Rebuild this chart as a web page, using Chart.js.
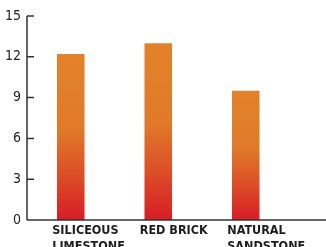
<!DOCTYPE html>
<html>
<head>
<meta charset="utf-8">
<script src="https://cdn.jsdelivr.net/npm/chart.js@4/dist/chart.umd.min.js"></script>
<style>
html,body{margin:0;padding:0;background:#fff;}
#wrap{width:326px;height:247px;position:relative;}
</style>
</head>
<body>
<div id="wrap"><canvas id="c" width="326" height="247"></canvas></div>
<script>
const categories = [["SILICEOUS","LIMESTONE"], "RED BRICK", ["NATURAL","SANDSTONE"]];
const values = [12.2, 13.0, 9.5];
const yTicks = [0, 3, 6, 9, 12, 15];

const AXIS = '#333333';

const axisPlugin = {
  id: 'axisLines',
  afterDraw(chart) {
    const ctx = chart.ctx, a = chart.chartArea, y = chart.scales.y;
    ctx.save();
    ctx.strokeStyle = AXIS;
    ctx.lineWidth = 1.5;
    ctx.beginPath();
    ctx.moveTo(a.left, a.top);
    ctx.lineTo(a.left, a.bottom);
    ctx.moveTo(a.left, a.bottom);
    ctx.lineTo(chart.width, a.bottom);
    y.ticks.forEach(t => {
      const py = y.getPixelForValue(t.value);
      ctx.moveTo(a.left, py);
      ctx.lineTo(a.left + 7, py);
    });
    ctx.stroke();
    ctx.restore();
  }
};

function barFill(context) {
  const chart = context.chart;
  const y = chart.scales && chart.scales.y;
  const v = context.raw;
  if (!y || !chart.chartArea || typeof v !== 'number') return '#E0802A';
  const top = y.getPixelForValue(v);
  const bottom = y.getPixelForValue(0);
  if (!isFinite(top) || !isFinite(bottom) || bottom - top < 1) return '#E0802A';
  const g = chart.ctx.createLinearGradient(0, top, 0, bottom);
  g.addColorStop(0, '#E3822A');
  g.addColorStop(0.45, '#E07A29');
  g.addColorStop(0.75, '#DC4A27');
  g.addColorStop(1, '#D81C26');
  return g;
}

new Chart(document.getElementById('c'), {
  type: 'bar',
  data: {
    labels: categories,
    datasets: [{
      data: values,
      backgroundColor: barFill,
      borderWidth: 0,
      categoryPercentage: 1,
      barPercentage: 0.315
    }]
  },
  options: {
    responsive: false,
    animation: false,
    events: [],
    layout: { padding: { top: 16, right: 36.5, left: 0, bottom: 0 } },
    plugins: { legend: { display: false }, tooltip: { enabled: false } },
    scales: {
      x: {
        grid: { display: false, drawTicks: false },
        border: { display: false },
        ticks: {
          color: '#1e1e1e',
          font: { family: "'DejaVu Sans Condensed', 'DejaVu Sans', sans-serif", size: 12.5, weight: 'bold', lineHeight: 1.25 },
          align: 'start',
          labelOffset: -18.5,
          padding: 3,
          maxRotation: 0,
          minRotation: 0,
          autoSkip: false
        },
        afterFit(s) { s.height = 27; s.paddingLeft = 0; s.paddingRight = 0; }
      },
      y: {
        min: 0,
        max: 15,
        afterBuildTicks(s) { s.ticks = yTicks.map(v => ({ value: v })); },
        grid: { display: false, drawTicks: false },
        border: { display: false },
        ticks: {
          color: '#222',
          font: { family: "'Liberation Sans Narrow', 'DejaVu Sans Condensed', sans-serif", size: 14 },
          padding: 6
        },
        afterFit(s) { s.width = 27; }
      }
    }
  },
  plugins: [axisPlugin]
});
</script>
</body>
</html>
